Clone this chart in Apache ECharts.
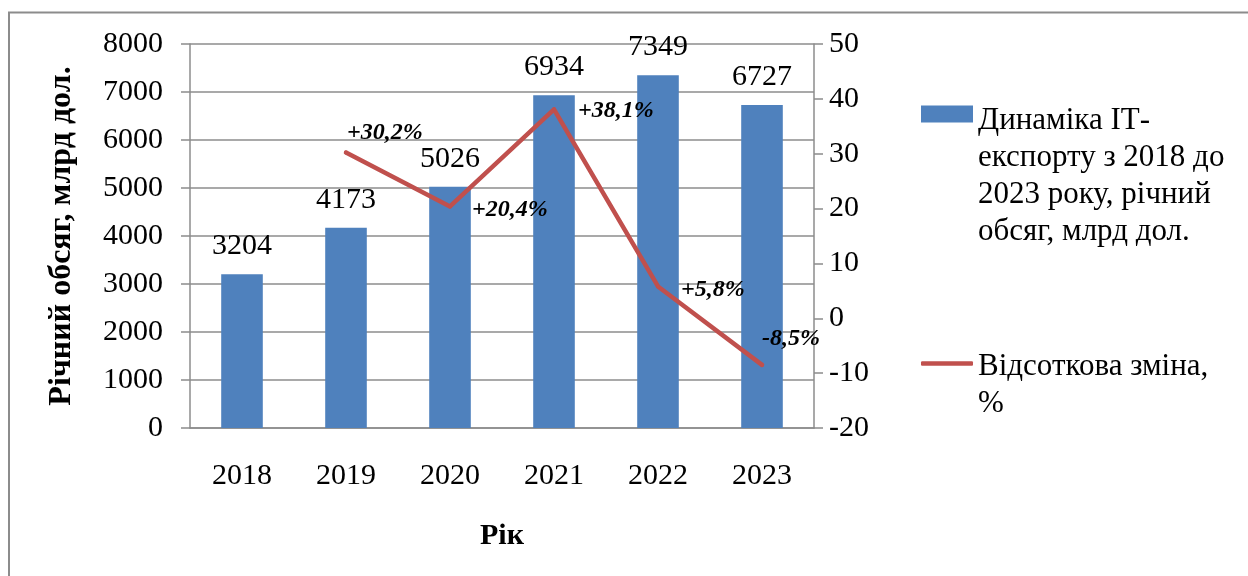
<!DOCTYPE html>
<html>
<head>
<meta charset="utf-8">
<script src="https://cdn.jsdelivr.net/npm/echarts@6/dist/echarts.min.js"></script>
<style>
  html, body { margin: 0; padding: 0; background: #fff; }
  #chart { width: 1248px; height: 576px; }
</style>
</head>
<body>
<div id="chart"></div>
<script>
// Years on the category axis
const categories = ['2018', '2019', '2020', '2021', '2022', '2023'];
// Annual IT export volume
const exportVolume = [3204, 4173, 5026, 6934, 7349, 6727];
// Year-over-year change, %
const percentChange = [null, 30.2, 20.4, 38.1, 5.8, -8.5];

const barName = 'Динаміка ІТ-експорту з 2018 до 2023 року, річний обсяг, млрд дол.';
const lineName = 'Відсоткова зміна, %';
// legend entries broken into lines
const legendLines = {};
legendLines[barName] = ['Динаміка ІТ-', 'експорту з 2018 до', '2023 року, річний', 'обсяг, млрд дол.'];
legendLines[lineName] = ['Відсоткова зміна,', '%'];

const FONT = "'Liberation Serif', 'Times New Roman', serif";
const GRID_COLOR = '#8c8c8c';
const BAR_COLOR = '#4F81BD';
const LINE_COLOR = '#C0504D';

// where each percentage label sits relative to its point
const changeLabelOffsets = [[0, 0], [-1, -20], [20, 3], [22, 2], [21, 3], [-2, -26]];

function fmtChange(v) {
  return (v > 0 ? '+' : '') + v.toFixed(1).replace('.', ',') + '%';
}

// legend text: a spacer line on top so the icon lines up with the first text line
function legendRich(gap) {
  return {
    gap: { fontSize: 1, lineHeight: gap },
    t: { fontFamily: FONT, fontSize: 31, lineHeight: 37, color: '#000' }
  };
}
function legendFormatter(name) {
  return '{gap| }\n' + legendLines[name].map(s => '{t|' + s + '}').join('\n');
}

const chart = echarts.init(document.getElementById('chart'), null, { renderer: 'canvas' });

chart.setOption({
  animation: false,
  backgroundColor: '#fff',
  textStyle: { fontFamily: FONT, color: '#000' },
  graphic: [{
    type: 'rect',
    silent: true,
    shape: { x: 9, y: 12.5, width: 1400, height: 800 },
    style: { fill: 'none', stroke: GRID_COLOR, lineWidth: 2 }
  }],
  grid: { left: 190, right: 434, top: 44, bottom: 148, containLabel: false },
  legend: [{
    data: [{ name: barName, icon: 'rect' }],
    left: 921, top: 39.5,
    padding: 0,
    itemWidth: 52, itemHeight: 17,
    selectedMode: false,
    formatter: legendFormatter,
    textStyle: { fontFamily: FONT, fontSize: 31, color: '#000', rich: legendRich(124) }
  }, {
    data: [{ name: lineName, icon: 'roundRect', itemStyle: { color: LINE_COLOR } }],
    left: 921, top: 326,
    padding: 0,
    itemWidth: 52, itemHeight: 4.5,
    selectedMode: false,
    formatter: legendFormatter,
    textStyle: { fontFamily: FONT, fontSize: 31, color: '#000', rich: legendRich(44.4) }
  }],
  xAxis: {
    type: 'category',
    data: categories,
    boundaryGap: true,
    name: 'Рік',
    nameLocation: 'middle',
    nameGap: 93,
    nameTextStyle: { fontFamily: FONT, fontSize: 30, fontWeight: 'bold', color: '#000' },
    axisLine: { show: true, lineStyle: { color: GRID_COLOR, width: 1.5 } },
    axisTick: { show: false },
    axisLabel: { fontFamily: FONT, fontSize: 30, color: '#000', margin: 33 }
  },
  yAxis: [{
    type: 'value',
    min: 0, max: 8000, interval: 1000,
    position: 'left',
    name: 'Річний обсяг, млрд дол.',
    nameLocation: 'middle',
    nameGap: 112,
    nameRotate: 90,
    nameTextStyle: { fontFamily: FONT, fontSize: 32, fontWeight: 'bold', color: '#000' },
    axisLine: { show: true, lineStyle: { color: GRID_COLOR, width: 1.5 } },
    axisTick: { show: true, length: 9, lineStyle: { color: GRID_COLOR, width: 1.5 } },
    splitLine: { show: true, lineStyle: { color: GRID_COLOR, width: 1.5 } },
    axisLabel: { fontFamily: FONT, fontSize: 30, color: '#000', margin: 27, formatter: v => String(v) }
  }, {
    type: 'value',
    min: -20, max: 50, interval: 10,
    position: 'right',
    axisLine: { show: true, lineStyle: { color: GRID_COLOR, width: 1.5 } },
    axisTick: { show: true, length: 9, lineStyle: { color: GRID_COLOR, width: 1.5 } },
    splitLine: { show: false },
    axisLabel: { fontFamily: FONT, fontSize: 30, color: '#000', margin: 15, formatter: v => String(v) }
  }],
  series: [{
    name: barName,
    type: 'bar',
    yAxisIndex: 0,
    data: exportVolume,
    barWidth: '40%',
    itemStyle: { color: BAR_COLOR },
    label: {
      show: true,
      position: 'top',
      distance: 13,
      fontFamily: FONT,
      fontSize: 30,
      color: '#000'
    },
    z: 2
  }, {
    name: lineName,
    type: 'line',
    yAxisIndex: 1,
    data: percentChange.map((v, i) => ({
      value: v,
      label: { offset: changeLabelOffsets[i] }
    })),
    connectNulls: false,
    symbol: 'circle',
    symbolSize: 4,
    itemStyle: { color: LINE_COLOR },
    lineStyle: { color: LINE_COLOR, width: 4.5, join: 'round', cap: 'round' },
    label: {
      show: true,
      position: 'right',
      distance: 0,
      fontFamily: FONT,
      fontSize: 24,
      fontWeight: 'bold',
      fontStyle: 'italic',
      color: '#000',
      formatter: p => (p.value == null ? '' : fmtChange(p.value))
    },
    z: 5
  }]
});
</script>
</body>
</html>
